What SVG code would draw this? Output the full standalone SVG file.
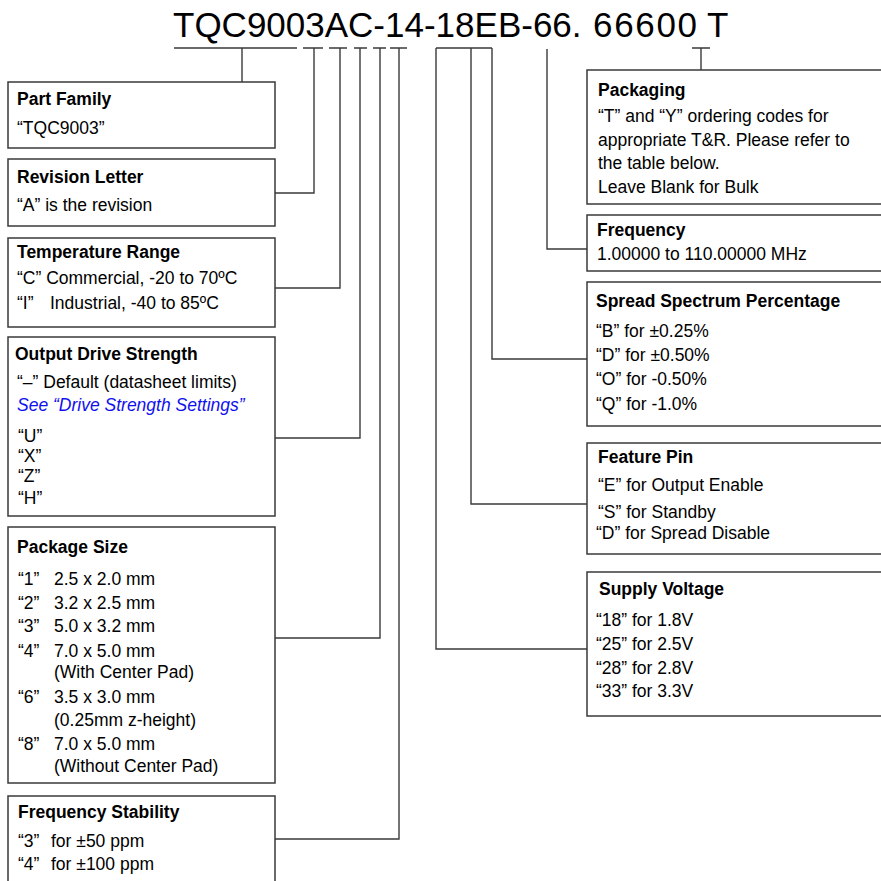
<svg xmlns="http://www.w3.org/2000/svg" width="881" height="881" viewBox="0 0 881 881">
<style>
.bg{fill:#ffffff}
.box{fill:#ffffff;stroke:#3a3a3a;stroke-width:1.5}
.ln{fill:none;stroke:#3a3a3a;stroke-width:1.4}
text{font-family:"Liberation Sans",Arial,sans-serif;fill:#000000}
.t{font-size:17.5px;font-weight:bold}
.b{font-size:17.5px}
.blue{font-size:17.5px;font-style:italic;fill:#1010ee}
.pn{font-size:35px}
</style>
<rect class="bg" x="0" y="0" width="881" height="881"/>
<g id="partnumber">
<text class="pn" y="37"><tspan x="173">TQC9003AC-14-18EB-66.</tspan><tspan x="593" textLength="104" lengthAdjust="spacing">66600</tspan><tspan x="707">T</tspan></text>
</g>
<g id="connectors">
<path class="ln" d="M174 48H297 M242 48V82"/>
<path class="ln" d="M303 48H323 M314 48V193H275"/>
<path class="ln" d="M329 48H347 M340 48V288H275"/>
<path class="ln" d="M354 48H367 M360 48V438H275"/>
<path class="ln" d="M373 48H386 M380 48V638H275"/>
<path class="ln" d="M390 48H407 M399 48V839H275"/>
<path class="ln" d="M436 48H492 M436 48V649H587 M471 48V504H587 M492 48V359H587"/>
<path class="ln" d="M547 49V249H587"/>
<path class="ln" d="M692 48H710 M701 48V70"/>
</g>
<g id="part-family">
<rect class="box" x="8" y="82" width="267" height="66"/>
<text class="t" x="17" y="105">Part Family</text>
<text class="b" x="17" y="134">“TQC9003”</text>
</g>
<g id="revision-letter">
<rect class="box" x="8" y="159" width="267" height="67"/>
<text class="t" x="17" y="183">Revision Letter</text>
<text class="b" x="17" y="211">“A” is the revision</text>
</g>
<g id="temperature-range">
<rect class="box" x="8" y="238" width="267" height="89"/>
<text class="t" x="17" y="258">Temperature Range</text>
<text class="b" x="17" y="284">“C” Commercial, -20 to 70ºC</text>
<text class="b" x="17" y="309">“I”</text>
<text class="b" x="50" y="309">Industrial, -40 to 85ºC</text>
</g>
<g id="output-drive-strength">
<rect class="box" x="8" y="337" width="267" height="179"/>
<text class="t" x="15" y="360">Output Drive Strength</text>
<text class="b" x="17" y="388">“–” Default (datasheet limits)</text>
<text class="blue" x="17" y="411">See “Drive Strength Settings”</text>
<text class="b" x="18" y="442">“U”</text>
<text class="b" x="18" y="462">“X”</text>
<text class="b" x="18" y="482">“Z”</text>
<text class="b" x="18" y="504">“H”</text>
</g>
<g id="package-size">
<rect class="box" x="8" y="527" width="267" height="256"/>
<text class="t" x="17" y="553">Package Size</text>
<text class="b" x="18" y="585">“1”</text><text class="b" x="54" y="585">2.5 x 2.0 mm</text>
<text class="b" x="18" y="609">“2”</text><text class="b" x="54" y="609">3.2 x 2.5 mm</text>
<text class="b" x="18" y="632">“3”</text><text class="b" x="54" y="632">5.0 x 3.2 mm</text>
<text class="b" x="18" y="657">“4”</text><text class="b" x="54" y="657">7.0 x 5.0 mm</text>
<text class="b" x="54" y="678">(With Center Pad)</text>
<text class="b" x="18" y="703">“6”</text><text class="b" x="54" y="703">3.5 x 3.0 mm</text>
<text class="b" x="54" y="726">(0.25mm z-height)</text>
<text class="b" x="18" y="750">“8”</text><text class="b" x="54" y="750">7.0 x 5.0 mm</text>
<text class="b" x="54" y="772">(Without Center Pad)</text>
</g>
<g id="frequency-stability">
<rect class="box" x="8" y="796" width="267" height="100"/>
<text class="t" x="18" y="818">Frequency Stability</text>
<text class="b" x="18" y="847">“3”</text><text class="b" x="51" y="847">for ±50 ppm</text>
<text class="b" x="18" y="870">“4”</text><text class="b" x="51" y="870">for ±100 ppm</text>
</g>
<g id="packaging">
<rect class="box" x="587" y="70" width="310" height="134"/>
<text class="t" x="598" y="96">Packaging</text>
<text class="b" x="598" y="122">“T” and “Y” ordering codes for</text>
<text class="b" x="598" y="146">appropriate T&amp;R. Please refer to</text>
<text class="b" x="598" y="169">the table below.</text>
<text class="b" x="598" y="193">Leave Blank for Bulk</text>
</g>
<g id="frequency">
<rect class="box" x="587" y="215" width="310" height="56"/>
<text class="t" x="597" y="236">Frequency</text>
<text class="b" x="597" y="260">1.00000 to 110.00000 MHz</text>
</g>
<g id="spread-spectrum">
<rect class="box" x="587" y="282" width="310" height="144"/>
<text class="t" x="596" y="307">Spread Spectrum Percentage</text>
<text class="b" x="596" y="337">“B” for ±0.25%</text>
<text class="b" x="596" y="361">“D” for ±0.50%</text>
<text class="b" x="596" y="385">“O” for -0.50%</text>
<text class="b" x="596" y="410">“Q” for -1.0%</text>
</g>
<g id="feature-pin">
<rect class="box" x="587" y="443" width="310" height="111"/>
<text class="t" x="598" y="463">Feature Pin</text>
<text class="b" x="598" y="491">“E” for Output Enable</text>
<text class="b" x="598" y="518">“S” for Standby</text>
<text class="b" x="596" y="539">“D” for Spread Disable</text>
</g>
<g id="supply-voltage">
<rect class="box" x="587" y="572" width="310" height="144"/>
<text class="t" x="599" y="595">Supply Voltage</text>
<text class="b" x="596" y="626">“18” for 1.8V</text>
<text class="b" x="596" y="650">“25” for 2.5V</text>
<text class="b" x="596" y="674">“28” for 2.8V</text>
<text class="b" x="596" y="697">“33” for 3.3V</text>
</g>
</svg>
